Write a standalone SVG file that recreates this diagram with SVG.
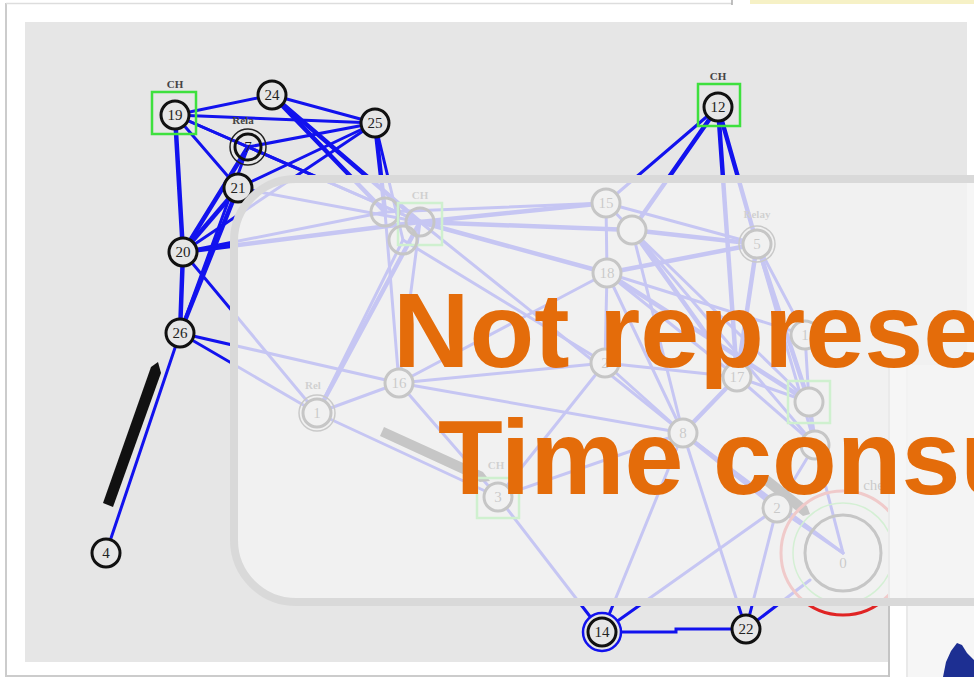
<svg xmlns="http://www.w3.org/2000/svg" width="974" height="677" viewBox="0 0 974 677">
<defs>
<style>
.e{stroke:#1212ee;stroke-width:3;stroke-linecap:round;fill:none}
.t{stroke-width:4.5}
.n{fill:#e6e6e6;stroke:#111;stroke-width:3}
.h{fill:none;stroke:#111;stroke-width:3}
.r{fill:none;stroke:#222;stroke-width:1.5}
.nt{font-family:"Liberation Serif","Times New Roman",serif;font-size:15px;fill:#222;text-anchor:middle}
.lb{font-family:"Liberation Serif","Times New Roman",serif;font-size:11px;font-weight:bold;fill:#444;text-anchor:middle}
.sq{fill:none;stroke:#3ee03e;stroke-width:2.5}
.big{font-family:"Liberation Sans",Arial,sans-serif;font-weight:bold;font-size:106px;fill:#e46c0a}
.arr{fill:#111}
</style>
<clipPath id="panel"><path d="M25 22H967V365H888V662H25Z"/></clipPath>
</defs>
<rect width="974" height="677" fill="#ffffff"/>
<line x1="6" y1="3" x2="6" y2="677" stroke="#cccccc" stroke-width="2"/>
<line x1="6" y1="3.5" x2="732" y2="3.5" stroke="#dddddd" stroke-width="1.5"/>
<line x1="732" y1="0" x2="732" y2="5" stroke="#aaaaaa" stroke-width="1.5"/>
<rect x="750" y="0" width="224" height="4" fill="#f6f1c6"/>
<line x1="6" y1="676" x2="888" y2="676" stroke="#cccccc" stroke-width="2"/>
<rect x="908" y="365" width="66" height="312" fill="#f6f6f6"/>
<line x1="907" y1="365" x2="907" y2="677" stroke="#e2e2e2" stroke-width="1.5"/>
<line x1="889" y1="365" x2="889" y2="677" stroke="#c4c4c4" stroke-width="2"/>
<path d="M25 22H967V365H888V662H25Z" fill="#e6e6e6"/>
<path d="M943 677L946 662L951 651L957 643L962 645L967 653L974 660V677Z" fill="#1d2f92"/>

<g id="graph" clip-path="url(#panel)">
<g id="connectors">
<line class="e" x1="175" y1="115" x2="272" y2="95"/>
<line class="e" x1="175" y1="115" x2="375" y2="123"/>
<line class="e" x1="175" y1="115" x2="248" y2="147"/>
<line class="e" x1="175" y1="115" x2="238" y2="188"/>
<line class="e t" x1="175" y1="115" x2="183" y2="252"/>
<line class="e" x1="175" y1="115" x2="420" y2="222"/>
<line class="e" x1="272" y1="95" x2="375" y2="123"/>
<line class="e t" x1="272" y1="95" x2="385" y2="212"/>
<line class="e t" x1="272" y1="95" x2="420" y2="222"/>
<line class="e" x1="375" y1="123" x2="248" y2="147"/>
<line class="e" x1="375" y1="123" x2="238" y2="188"/>
<line class="e" x1="375" y1="123" x2="183" y2="252"/>
<line class="e t" x1="375" y1="123" x2="385" y2="212"/>
<line class="e" x1="375" y1="123" x2="403" y2="240"/>
<line class="e t" x1="248" y1="147" x2="183" y2="252"/>
<line class="e" x1="248" y1="147" x2="180" y2="333"/>
<line class="e" x1="248" y1="147" x2="420" y2="222"/>
<line class="e t" x1="238" y1="188" x2="183" y2="252"/>
<line class="e t" x1="238" y1="188" x2="180" y2="333"/>
<line class="e" x1="238" y1="188" x2="420" y2="222"/>
<line class="e t" x1="183" y1="252" x2="180" y2="333"/>
<line class="e t" x1="183" y1="252" x2="420" y2="222"/>
<line class="e" x1="183" y1="252" x2="385" y2="212"/>
<line class="e" x1="183" y1="252" x2="317" y2="413"/>
<line class="e" x1="180" y1="333" x2="399" y2="383"/>
<line class="e" x1="180" y1="333" x2="317" y2="413"/>
<line class="e" stroke-width="2.5" x1="180" y1="333" x2="106" y2="553"/>
<line class="e" x1="718" y1="107" x2="606" y2="203"/>
<line class="e t" x1="718" y1="107" x2="632" y2="230"/>
<line class="e t" x1="718" y1="107" x2="737" y2="377"/>
<line class="e t" x1="718" y1="107" x2="757" y2="244"/>
<polyline class="e" points="602,632 676,632 676,629 746,629"/>
<line class="e" x1="602" y1="632" x2="498" y2="497"/>
<line class="e" x1="602" y1="632" x2="683" y2="433"/>
<line class="e" x1="602" y1="632" x2="777" y2="508"/>
<line class="e" x1="746" y1="629" x2="683" y2="433"/>
<line class="e" x1="746" y1="629" x2="777" y2="508"/>
<line class="e" x1="746" y1="629" x2="810" y2="580"/>
<line class="e t" x1="420" y1="222" x2="606" y2="203"/>
<line class="e t" x1="420" y1="222" x2="632" y2="230"/>
<line class="e t" x1="420" y1="222" x2="607" y2="273"/>
<line class="e t" x1="420" y1="222" x2="317" y2="413"/>
<line class="e" x1="403" y1="240" x2="317" y2="413"/>
<line class="e" x1="420" y1="222" x2="399" y2="383"/>
<line class="e" x1="385" y1="212" x2="399" y2="383"/>
<line class="e" x1="403" y1="240" x2="605" y2="363"/>
<line class="e" x1="420" y1="222" x2="683" y2="433"/>
<line class="e" x1="385" y1="212" x2="606" y2="203"/>
<line class="e" x1="606" y1="203" x2="632" y2="230"/>
<line class="e" x1="606" y1="203" x2="607" y2="273"/>
<line class="e" x1="606" y1="203" x2="757" y2="244"/>
<line class="e t" x1="632" y1="230" x2="757" y2="244"/>
<line class="e t" x1="632" y1="230" x2="737" y2="377"/>
<line class="e" x1="632" y1="230" x2="809" y2="402"/>
<line class="e" x1="632" y1="230" x2="683" y2="433"/>
<line class="e" x1="632" y1="230" x2="815" y2="445"/>
<line class="e t" x1="607" y1="273" x2="757" y2="244"/>
<line class="e" x1="607" y1="273" x2="605" y2="363"/>
<line class="e" x1="607" y1="273" x2="737" y2="377"/>
<line class="e t" x1="607" y1="273" x2="809" y2="402"/>
<line class="e" x1="607" y1="273" x2="683" y2="433"/>
<line class="e" x1="607" y1="273" x2="805" y2="335"/>
<line class="e" x1="607" y1="273" x2="399" y2="383"/>
<line class="e t" x1="757" y1="244" x2="737" y2="377"/>
<line class="e" x1="757" y1="244" x2="805" y2="335"/>
<line class="e t" x1="757" y1="244" x2="809" y2="402"/>
<line class="e" x1="757" y1="244" x2="815" y2="445"/>
<line class="e" x1="605" y1="363" x2="399" y2="383"/>
<line class="e" x1="605" y1="363" x2="683" y2="433"/>
<line class="e" x1="605" y1="363" x2="498" y2="497"/>
<line class="e" x1="605" y1="363" x2="737" y2="377"/>
<line class="e" x1="399" y1="383" x2="317" y2="413"/>
<line class="e" x1="399" y1="383" x2="498" y2="497"/>
<line class="e" x1="399" y1="383" x2="683" y2="433"/>
<line class="e" x1="317" y1="413" x2="498" y2="497"/>
<line class="e" x1="737" y1="377" x2="809" y2="402"/>
<line class="e t" x1="737" y1="377" x2="683" y2="433"/>
<line class="e" x1="737" y1="377" x2="815" y2="445"/>
<line class="e" x1="805" y1="335" x2="809" y2="402"/>
<line class="e t" x1="809" y1="402" x2="815" y2="445"/>
<line class="e" x1="815" y1="445" x2="777" y2="508"/>
<line class="e t" x1="683" y1="433" x2="777" y2="508"/>
<line class="e" x1="777" y1="508" x2="843" y2="553"/>
<line class="e" x1="815" y1="445" x2="843" y2="553"/>
<line class="e" x1="683" y1="433" x2="843" y2="553"/>
<line class="e" x1="498" y1="497" x2="683" y2="433"/>
</g>

<polygon class="arr" points="103,503 113,507 161,373 158,362 151,367"/>
<polygon class="arr" points="384,427 380,436 480,482 490,481 483,472"/>
<polygon class="arr" points="768,475 762,483 803,516 810,514 807,506"/>

<g id="node19"><rect class="sq" x="152" y="92" width="44" height="42"/><text class="lb" x="175" y="88">CH</text><circle class="n" cx="175" cy="115" r="14"/><text class="nt" x="175" y="120">19</text></g>
<g id="node24"><circle class="n" cx="272" cy="95" r="14"/><text class="nt" x="272" y="100">24</text></g>
<g id="node25"><circle class="n" cx="375" cy="123" r="14"/><text class="nt" x="375" y="128">25</text></g>
<g id="node7"><text class="lb" x="243" y="124" font-weight="normal" fill="#555">Rela</text><circle class="r" cx="248" cy="147" r="18" stroke="#2a2a90"/><circle class="h" cx="248" cy="147" r="13"/><text class="nt" x="248" y="152">7</text></g>
<g id="node21"><circle class="n" cx="238" cy="188" r="14"/><text class="nt" x="238" y="193">21</text></g>
<g id="node20"><circle class="n" cx="183" cy="252" r="14"/><text class="nt" x="183" y="257">20</text></g>
<g id="node26"><circle class="n" cx="180" cy="333" r="14"/><text class="nt" x="180" y="338">26</text></g>
<g id="node4"><circle class="n" cx="106" cy="553" r="14"/><text class="nt" x="106" y="558">4</text></g>
<g id="node12"><rect class="sq" x="698" y="84" width="42" height="42"/><text class="lb" x="718" y="80">CH</text><circle class="n" cx="718" cy="107" r="14"/><text class="nt" x="718" y="112">12</text></g>
<g id="nodeA"><circle class="h" cx="385" cy="212" r="14"/></g>
<g id="nodeB"><rect class="sq" x="398" y="203" width="44" height="42"/><text class="lb" x="420" y="199" font-weight="normal">CH</text><circle class="h" cx="420" cy="222" r="14"/></g>
<g id="nodeC"><circle class="h" cx="403" cy="240" r="14"/></g>
<g id="node15"><circle class="n" cx="606" cy="203" r="14"/><text class="nt" x="606" y="208">15</text></g>
<g id="nodeD"><circle class="n" cx="632" cy="230" r="14"/></g>
<g id="node18"><circle class="n" cx="607" cy="273" r="14"/><text class="nt" x="607" y="278">18</text></g>
<g id="node5"><text class="lb" x="757" y="218" font-weight="normal">Relay</text><circle class="r" cx="757" cy="244" r="18"/><circle class="n" cx="757" cy="244" r="14"/><text class="nt" x="757" y="249">5</text></g>
<g id="node2"><circle class="n" cx="605" cy="363" r="14"/><text class="nt" x="605" y="368">2</text></g>
<g id="node16"><circle class="n" cx="399" cy="383" r="14"/><text class="nt" x="399" y="388">16</text></g>
<g id="node1"><text class="lb" x="313" y="389" font-weight="normal">Rel</text><circle class="r" cx="317" cy="413" r="18"/><circle class="n" cx="317" cy="413" r="14"/><text class="nt" x="317" y="418">1</text></g>
<g id="node17"><circle class="n" cx="737" cy="377" r="14"/><text class="nt" x="737" y="382">17</text></g>
<g id="nodeE"><circle class="n" cx="805" cy="335" r="14"/><text class="nt" x="805" y="340">1</text></g>
<g id="nodeF"><rect class="sq" x="788" y="381" width="42" height="42"/><circle class="n" cx="809" cy="402" r="14"/></g>
<g id="nodeG"><circle class="n" cx="815" cy="445" r="14"/></g>
<g id="node8"><circle class="n" cx="683" cy="433" r="14"/><text class="nt" x="683" y="438">8</text></g>
<g id="nodeH"><circle class="n" cx="777" cy="508" r="14"/><text class="nt" x="777" y="513">2</text></g>
<g id="node3"><rect class="sq" x="477" y="478" width="42" height="40"/><text class="lb" x="496" y="469" font-weight="normal">CH</text><circle class="n" cx="498" cy="497" r="14"/><text class="nt" x="498" y="502">3</text></g>
<g id="node14"><circle cx="602" cy="632" r="19" fill="#e6e6e6" stroke="#1212ee" stroke-width="2.5"/><circle class="n" cx="602" cy="632" r="14"/><text class="nt" x="602" y="637">14</text></g>
<g id="node22"><circle class="n" cx="746" cy="629" r="14"/><text class="nt" x="746" y="634">22</text></g>
<g id="node0"><text class="nt" x="884" y="490" font-size="24px" text-anchor="end" style="text-anchor:end">che</text><circle cx="843" cy="553" r="62" fill="none" stroke="#e02424" stroke-width="3"/><circle cx="843" cy="553" r="50" fill="none" stroke="#55dd55" stroke-width="1.5"/><circle class="h" cx="843" cy="553" r="38"/><text class="nt" x="843" y="568" font-size="42px">0</text></g>
</g>

<rect x="234" y="179" width="900" height="423" rx="62" fill="#f4f4f4" fill-opacity="0.8" stroke="#d9d9d9" stroke-width="8"/>
<text class="big" x="393" y="367">Not represe</text>
<text class="big" x="438" y="494">Time consu</text>
</svg>
